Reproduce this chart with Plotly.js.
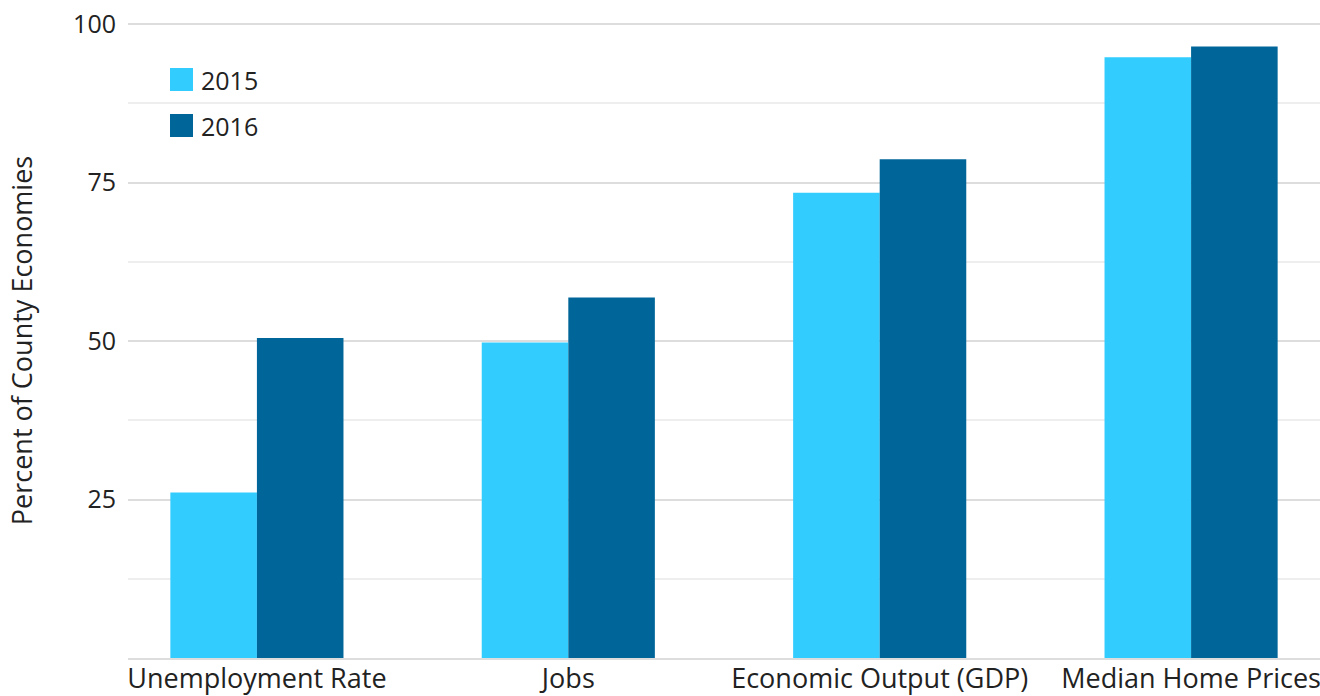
<!DOCTYPE html>
<html>
<head>
<meta charset="utf-8">
<script src="https://cdn.plot.ly/plotly-3.0.1.min.js"></script>
<style>html,body{margin:0;padding:0;background:#fff;}#chart{width:1320px;height:696px;}</style>
</head>
<body>
<div id="chart"></div>
<script>
const categories = ["Unemployment Rate", "Jobs", "Economic Output (GDP)", "Median Home Prices"];
const values2015 = [26.1, 49.8, 73.4, 94.8];
const values2016 = [50.5, 56.9, 78.7, 96.5];
const seriesNames = ["2015", "2016"];
const yTicks = [25, 50, 75, 100];

const colors = ["#33CCFF", "#006699"];
const FONT = "'Open Sans', sans-serif";

const traces = [
  {type: "bar", name: seriesNames[0], x: categories, y: values2015, marker: {color: colors[0]}, showlegend: false, hoverinfo: "x+y"},
  {type: "bar", name: seriesNames[1], x: categories, y: values2016, marker: {color: colors[1]}, showlegend: false, hoverinfo: "x+y"}
];

// legend built as shapes + text (square swatches like the reference)
const L = 128, R = 1320, T = 23, B = 658;
const px = v => (v - L) / (R - L);
const py = v => (B - v) / (B - T);
const legendY = [79.5, 125.5];
const shapes = [], annotations = [];
seriesNames.forEach((n, i) => {
  shapes.push({type: "rect", xref: "paper", yref: "paper",
    x0: px(170), x1: px(193), y0: py(legendY[i] - 11.5), y1: py(legendY[i] + 11.5),
    fillcolor: colors[i], line: {width: 0}});
  annotations.push({xref: "paper", yref: "paper", x: px(199), y: py(legendY[i]),
    xanchor: "left", yanchor: "middle", text: n, showarrow: false,
    font: {family: FONT, size: 25, color: "#222"}});
});

const layout = {
  width: 1320, height: 696,
  margin: {l: 128, r: 0, t: 23, b: 38},
  paper_bgcolor: "#fff", plot_bgcolor: "#fff",
  font: {family: FONT, size: 25, color: "#222"},
  barmode: "group", bargap: 0.444, bargroupgap: 0,
  xaxis: {type: "category", range: [-0.414, 3.414], showgrid: false,
    showline: true, linecolor: "#dddddd", linewidth: 2,
    ticks: "", ticklabelstandoff: -4,
    tickfont: {family: FONT, size: 27, color: "#222"}, zeroline: false},
  yaxis: {range: [0, 100.2], tickvals: yTicks, showgrid: true, gridcolor: "#dddddd", gridwidth: 2,
    zeroline: false, showline: false,
    ticks: "outside", ticklen: 6, tickcolor: "rgba(0,0,0,0)",
    tickfont: {family: FONT, size: 25, color: "#222"},
    minor: {dtick: 12.5, tick0: 0, showgrid: true, gridcolor: "#eeeeee", gridwidth: 2},
    title: {text: "Percent of County Economies", font: {family: FONT, size: 27, color: "#222"}, standoff: 32}},
  shapes: shapes,
  annotations: annotations,
  showlegend: false
};

Plotly.newPlot("chart", traces, layout, {displayModeBar: false, staticPlot: true});
</script>
</body>
</html>
